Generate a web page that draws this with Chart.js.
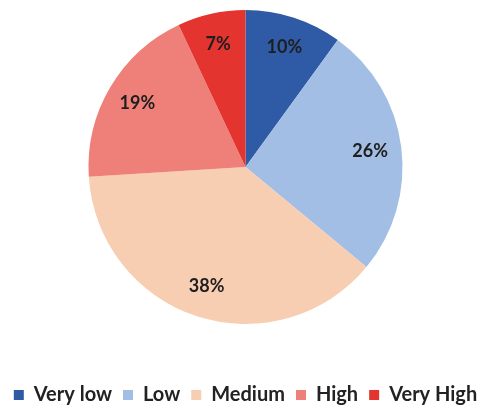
<!DOCTYPE html>
<html>
<head>
<meta charset="utf-8">
<script src="https://cdn.jsdelivr.net/npm/chart.js@4"></script>
<style>
  html, body { margin: 0; padding: 0; background: #fff; }
  #wrap { width: 491px; height: 408px; }
</style>
</head>
<body>
<div id="wrap"><canvas id="pieChart" width="491" height="408"></canvas></div>
<script>
const categories = ["Very low", "Low", "Medium", "High", "Very High"];
const shares = [10, 26, 38, 19, 7];
const sliceColors = ["#2f5ba6", "#a3bee4", "#f7ceb2", "#ef8079", "#e4342f"];

// percentage labels inside each slice, at ~80% of the radius
const sliceLabels = {
  id: "sliceLabels",
  afterDatasetsDraw(chart) {
    const ctx = chart.ctx;
    const meta = chart.getDatasetMeta(0);
    ctx.save();
    ctx.font = "bold 18px Lato, 'Open Sans', sans-serif";
    ctx.fillStyle = "#1e1e1e";
    ctx.textAlign = "center";
    ctx.textBaseline = "middle";
    meta.data.forEach((arc, i) => {
      const p = arc.getProps(["x", "y", "startAngle", "endAngle", "outerRadius"], true);
      const mid = (p.startAngle + p.endAngle) / 2;
      const r = p.outerRadius * 0.8;
      ctx.fillText(shares[i] + "%", p.x + Math.cos(mid) * r, p.y + Math.sin(mid) * r);
    });
    ctx.restore();
  }
};

new Chart(document.getElementById("pieChart").getContext("2d"), {
  type: "pie",
  data: {
    labels: categories,
    datasets: [{
      data: shares,
      backgroundColor: sliceColors,
      borderWidth: 0
    }]
  },
  options: {
    responsive: false,
    animation: false,
    layout: { padding: { top: 10, bottom: 0 } },
    plugins: {
      legend: {
        position: "bottom",
        maxHeight: 84,
        // blank title only used as a spacer between pie and legend row
        title: { display: true, text: " ", font: { size: 10 }, padding: { top: 38, bottom: 0 } },
        labels: {
          usePointStyle: true,
          pointStyle: "rect",
          boxWidth: 10,
          boxHeight: 10,
          padding: 11,
          color: "#222",
          font: { family: "Lato, 'Open Sans', sans-serif", size: 20, weight: "bold" }
        }
      },
      tooltip: { enabled: false }
    }
  },
  plugins: [sliceLabels]
});
</script>
</body>
</html>
